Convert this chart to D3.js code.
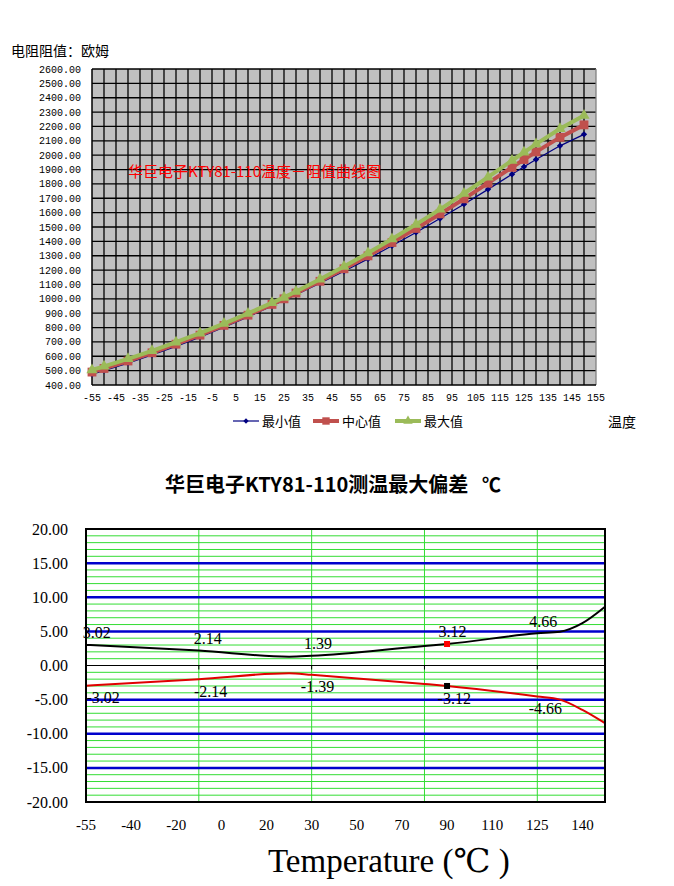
<!DOCTYPE html>
<html>
<head>
<meta charset="utf-8">
<script src="https://cdn.jsdelivr.net/npm/d3@7"></script>
<style>
  body { margin: 0; background: #fff; }
  svg { display: block; }
</style>
</head>
<body>
<svg id="chart" width="674" height="886"></svg>
<script>
// KTY81-110 resistance table (ohm)
var temps = [-55, -50, -40, -30, -20, -10, 0, 10, 20, 25, 30, 40, 50, 60, 70, 80, 90, 100, 110, 120, 125, 130, 140, 150];
var rMin = [475, 500, 552, 609, 669, 733, 802, 874, 950, 990, 1029, 1108, 1192, 1278, 1369, 1462, 1559, 1659, 1762, 1867, 1919, 1970, 2065, 2145];
var rTyp = [490, 515, 567, 624, 684, 747, 815, 886, 961, 1000, 1040, 1122, 1209, 1299, 1392, 1490, 1591, 1696, 1805, 1915, 1970, 2023, 2124, 2211];
var rMax = [505, 530, 582, 638, 698, 761, 828, 898, 972, 1010, 1051, 1136, 1225, 1319, 1416, 1518, 1623, 1733, 1847, 1963, 2020, 2077, 2184, 2277];
var topXTicks = d3.range(-55, 156, 10);
var topYTicks = d3.range(400, 2601, 100);

// deviation chart (category axis, positions in category units)
var errCats = ["-55", "-40", "-20", "0", "20", "30", "50", "70", "90", "110", "125", "140"];
var errPos = [0, 2.5, 4.5, 5, 7.5, 8, 10, 10.5, 11, 11.5];
var errUpper = [3.02, 2.18, 1.30, 1.42, 2.87, 3.15, 4.72, 4.95, 6.2, 8.6];
var errLower = [-2.95, -2.0, -1.13, -1.37, -2.7, -3.0, -4.55, -5.0, -6.5, -8.45];
var labelPosUp = [0.24, 2.7, 5.14, 8.12, 10.13];
var labelUp = [3.02, 2.14, 1.39, 3.12, 4.66];
var labelPosLo = [0.38, 2.76, 5.13, 8.16, 10.18];
var labelLo = [-3.02, -2.14, -1.39, -3.12, -4.66];
var vGridPos = [2.5, 5, 7.5, 10];
var errYTicks = d3.range(-20, 21, 5);

var svg = d3.select("#chart");
var cjk = "'Noto Sans CJK SC', 'Noto Sans', sans-serif";
var mono = "'Liberation Mono', 'DejaVu Sans Mono', monospace";
var serif = "'Liberation Serif', 'DejaVu Serif', serif";

// ---------- top chart ----------
var x1 = d3.scaleLinear().domain([-55, 155]).range([92, 596]);
var y1 = d3.scaleLinear().domain([400, 2600]).range([385, 69]);

var gTop = svg.append("g");

gTop.append("rect")
    .attr("x", x1(-55)).attr("y", y1(2600))
    .attr("width", x1(155) - x1(-55)).attr("height", y1(400) - y1(2600))
    .attr("fill", "#c0c0c0");

gTop.selectAll(".vg").data(d3.range(-50, 155, 5)).enter().append("line")
    .attr("x1", function(d) { return x1(d); }).attr("x2", function(d) { return x1(d); })
    .attr("y1", y1(2600)).attr("y2", y1(400))
    .attr("stroke", "#000").attr("stroke-width", 1.3);

gTop.selectAll(".hg").data(topYTicks.slice(1)).enter().append("line")
    .attr("x1", x1(-55)).attr("x2", x1(155))
    .attr("y1", function(d) { return y1(d); }).attr("y2", function(d) { return y1(d); })
    .attr("stroke", "#000").attr("stroke-width", 1.3);

gTop.append("line").attr("x1", x1(155)).attr("x2", x1(155))
    .attr("y1", y1(2600)).attr("y2", y1(400)).attr("stroke", "#808080").attr("stroke-width", 1.3);
gTop.append("line").attr("x1", x1(-55)).attr("x2", x1(-55))
    .attr("y1", y1(2600)).attr("y2", y1(400)).attr("stroke", "#000").attr("stroke-width", 1.5);
gTop.append("line").attr("x1", x1(-55)).attr("x2", x1(155))
    .attr("y1", y1(400)).attr("y2", y1(400)).attr("stroke", "#000").attr("stroke-width", 1.5);

gTop.selectAll(".yl").data(topYTicks).enter().append("text")
    .attr("x", 81).attr("y", function(d) { return y1(d) + 3.5; })
    .attr("text-anchor", "end")
    .style("font-family", mono).style("font-size", "10px").attr("fill", "#000")
    .text(function(d) { return d.toFixed(2); });

gTop.selectAll(".xl").data(topXTicks).enter().append("text")
    .attr("x", function(d) { return x1(d); }).attr("y", 401)
    .attr("text-anchor", "middle")
    .style("font-family", mono).style("font-size", "10px").attr("fill", "#000")
    .text(function(d) { return d; });

gTop.append("text").attr("x", 11).attr("y", 56)
    .style("font-family", cjk).style("font-size", "14px").attr("fill", "#000")
    .text("电阻阻值：欧姆");

gTop.append("text").attr("x", 128).attr("y", 177)
    .style("font-family", cjk).style("font-size", "15px").attr("fill", "#ff0000")
    .text("华巨电子KTY81-110温度－阻值曲线图");

var series = [
    { name: "最小值", vals: rMin, color: "#000080", width: 1.2, sym: d3.symbolSquare, size: 20, rot: 45 },
    { name: "中心值", vals: rTyp, color: "#c0504d", width: 4, sym: d3.symbolSquare, size: 78, rot: 0 },
    { name: "最大值", vals: rMax, color: "#9bbb59", width: 4, sym: d3.symbolTriangle, size: 55, rot: 0 }
];

var line1 = d3.line()
    .x(function(d, i) { return x1(temps[i]); })
    .y(function(d) { return y1(d); });

series.forEach(function(s) {
    var g = gTop.append("g");
    g.append("path").datum(s.vals)
        .attr("d", line1).attr("fill", "none")
        .attr("stroke", s.color).attr("stroke-width", s.width);
    g.selectAll("path.m").data(s.vals).enter().append("path").attr("class", "m")
        .attr("d", d3.symbol().type(s.sym).size(s.size))
        .attr("transform", function(d, i) {
            return "translate(" + x1(temps[i]) + "," + y1(d) + ") rotate(" + s.rot + ")";
        })
        .attr("fill", s.color);
});

// legend
var legX = [233, 313, 395];
series.forEach(function(s, i) {
    var lg = gTop.append("g").attr("transform", "translate(" + legX[i] + ",421)");
    lg.append("line").attr("x1", 0).attr("x2", 26).attr("y1", 0).attr("y2", 0)
        .attr("stroke", s.color).attr("stroke-width", s.width);
    lg.append("path")
        .attr("d", d3.symbol().type(s.sym).size(s.size * 0.7))
        .attr("transform", "translate(13,0) rotate(" + s.rot + ")")
        .attr("fill", s.color);
    lg.append("text").attr("x", 29).attr("y", 4.5)
        .style("font-family", cjk).style("font-size", "13px").attr("fill", "#000")
        .text(s.name);
});

gTop.append("text").attr("x", 608).attr("y", 427)
    .style("font-family", cjk).style("font-size", "14px").attr("fill", "#000")
    .text("温度");

// ---------- bottom chart ----------
var x2 = d3.scaleLinear().domain([0, 11.5]).range([86, 605]);
var y2 = d3.scaleLinear().domain([-20, 20]).range([802, 529]);

var gBot = svg.append("g");

var title = gBot.append("text").attr("x", 165).attr("y", 492)
    .style("font-family", cjk).style("font-size", "20px").style("font-weight", "bold")
    .attr("fill", "#000");
title.append("tspan").text("华巨电子KTY81-110测温最大偏差");
title.append("tspan").attr("x", 482).style("font-size", "19px").text("℃");

gBot.selectAll(".mg").data(d3.range(-19, 20, 1).filter(function(d) { return d % 5 !== 0; }))
    .enter().append("line")
    .attr("x1", x2(0)).attr("x2", x2(11.5))
    .attr("y1", function(d) { return y2(d); }).attr("y2", function(d) { return y2(d); })
    .attr("stroke", "#33dd33").attr("stroke-width", 1);

gBot.selectAll(".vg").data(vGridPos).enter().append("line")
    .attr("x1", function(d) { return x2(d); }).attr("x2", function(d) { return x2(d); })
    .attr("y1", y2(20)).attr("y2", y2(-20))
    .attr("stroke", "#33dd33").attr("stroke-width", 1);

gBot.selectAll(".bg").data([-15, -10, -5, 5, 10, 15]).enter().append("line")
    .attr("x1", x2(0)).attr("x2", x2(11.5))
    .attr("y1", function(d) { return y2(d); }).attr("y2", function(d) { return y2(d); })
    .attr("stroke", "#0000cc").attr("stroke-width", 2.5);

gBot.append("line").attr("x1", x2(0)).attr("x2", x2(11.5))
    .attr("y1", y2(0)).attr("y2", y2(0)).attr("stroke", "#000").attr("stroke-width", 1);
gBot.selectAll(".tk").data(vGridPos).enter().append("line")
    .attr("x1", function(d) { return x2(d); }).attr("x2", function(d) { return x2(d); })
    .attr("y1", y2(0)).attr("y2", y2(0) + 4)
    .attr("stroke", "#000").attr("stroke-width", 1);

var curve = d3.line()
    .x(function(d, i) { return x2(errPos[i]); })
    .y(function(d) { return y2(d); })
    .curve(d3.curveMonotoneX);

gBot.append("path").datum(errUpper).attr("d", curve)
    .attr("fill", "none").attr("stroke", "#000").attr("stroke-width", 2);
gBot.append("path").datum(errLower).attr("d", curve)
    .attr("fill", "none").attr("stroke", "#e00000").attr("stroke-width", 2);

gBot.append("rect").attr("x", x2(errPos[5]) - 3).attr("y", y2(errUpper[5]) - 3)
    .attr("width", 6).attr("height", 6).attr("fill", "#ff0000");
gBot.append("rect").attr("x", x2(errPos[5]) - 3).attr("y", y2(errLower[5]) - 3)
    .attr("width", 6).attr("height", 6).attr("fill", "#000");

gBot.selectAll(".lu").data(labelUp).enter().append("text")
    .attr("x", function(d, i) { return x2(labelPosUp[i]); })
    .attr("y", function(d) { return y2(d) - 7; })
    .attr("text-anchor", "middle")
    .style("font-family", serif).style("font-size", "16px").attr("fill", "#000")
    .text(function(d) { return d.toFixed(2); });
gBot.selectAll(".ll").data(labelLo).enter().append("text")
    .attr("x", function(d, i) { return x2(labelPosLo[i]); })
    .attr("y", function(d) { return y2(d) + 17; })
    .attr("text-anchor", "middle")
    .style("font-family", serif).style("font-size", "16px").attr("fill", "#000")
    .text(function(d) { return d.toFixed(2); });

gBot.append("rect").attr("x", x2(0)).attr("y", y2(20))
    .attr("width", x2(11.5) - x2(0)).attr("height", y2(-20) - y2(20))
    .attr("fill", "none").attr("stroke", "#000").attr("stroke-width", 2);

gBot.selectAll(".yl").data(errYTicks).enter().append("text")
    .attr("x", 68).attr("y", function(d) { return y2(d) + 5.5; })
    .attr("text-anchor", "end")
    .style("font-family", serif).style("font-size", "16px").attr("fill", "#000")
    .text(function(d) { return d.toFixed(2); });

gBot.selectAll(".xl").data(errCats).enter().append("text")
    .attr("x", function(d, i) { return x2(i); }).attr("y", 830)
    .attr("text-anchor", "middle")
    .style("font-family", serif).style("font-size", "15px").attr("fill", "#000")
    .text(function(d) { return d; });

var xt = gBot.append("text").attr("x", 268).attr("y", 872)
    .style("font-family", serif).style("font-size", "33px").attr("fill", "#000");
xt.append("tspan").text("Temperature (");
xt.append("tspan").style("font-weight", "300").text("℃");
xt.append("tspan").text(" )");
</script>
</body>
</html>
